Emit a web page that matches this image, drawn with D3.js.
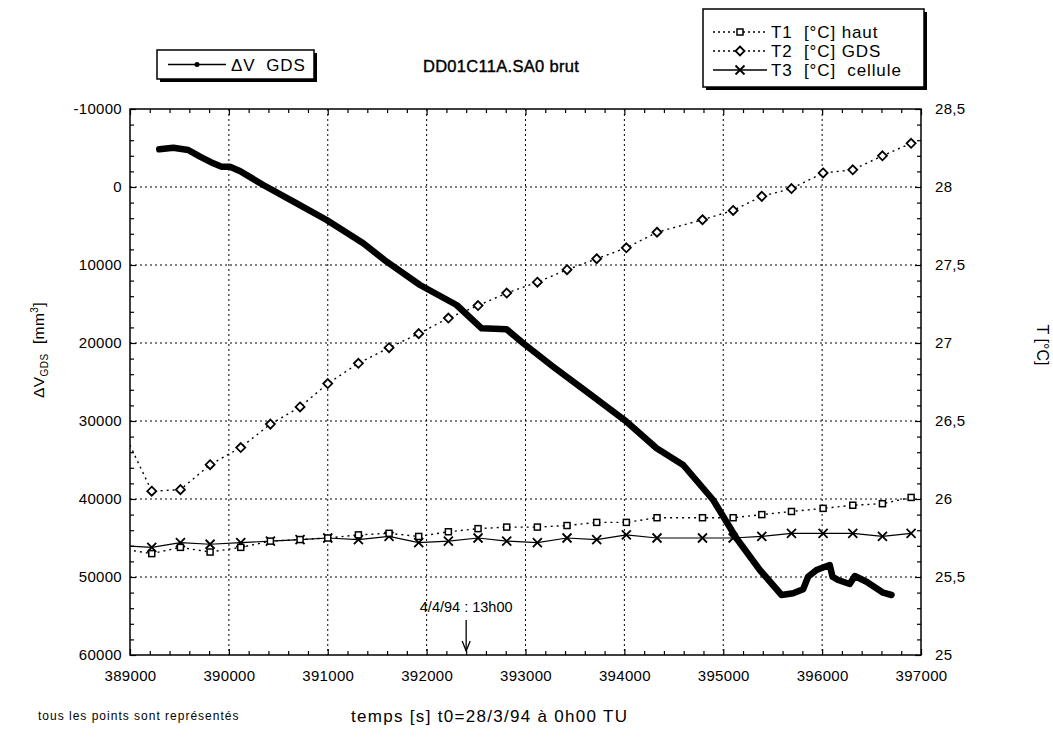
<!DOCTYPE html>
<html><head><meta charset="utf-8">
<script src="https://cdn.jsdelivr.net/npm/d3@7/dist/d3.min.js"></script>
<style>
body{margin:0;background:#fff}
svg{font-family:"Liberation Sans",Arial,Helvetica,sans-serif}
</style>
</head><body>
<svg id="c" width="1053" height="747"></svg>
<script>
// ---------- data ----------
const tempTimes = [388920,389220,389510,389810,390120,390420,390720,391000,391310,391620,391920,392220,392520,392810,393120,393420,393720,394020,394330,394790,395100,395390,395690,396010,396310,396610,396900];
const t1Values = [25.68,25.65,25.69,25.66,25.69,25.73,25.74,25.75,25.77,25.78,25.76,25.79,25.81,25.82,25.82,25.83,25.85,25.85,25.88,25.88,25.88,25.90,25.92,25.94,25.96,25.97,26.01];
const t2Values = [26.45,26.05,26.06,26.22,26.33,26.48,26.59,26.74,26.87,26.97,27.06,27.16,27.24,27.32,27.39,27.47,27.54,27.61,27.71,27.79,27.85,27.94,27.99,28.09,28.11,28.20,28.28];
const t3Values = [25.70,25.69,25.72,25.71,25.72,25.73,25.74,25.75,25.74,25.76,25.72,25.73,25.75,25.73,25.72,25.75,25.74,25.77,25.75,25.75,25.75,25.76,25.78,25.78,25.78,25.76,25.78];
const dvTimes = [389296,389438,389589,389708,389842,389927,390011,390111,390348,390686,390989,391359,391596,391933,392303,392556,392809,392977,393280,393618,394022,394326,394595,394898,395134,395370,395590,395707,395808,395858,395943,396077,396105,396162,396279,396330,396449,396617,396702];
const dvValues = [-4833,-5038,-4744,-3885,-3038,-2603,-2603,-2051,-256,2090,4231,7218,9577,12564,15128,18115,18244,20038,23038,26244,30090,33500,35641,40128,45038,49103,52308,52090,51577,49962,49103,48462,49962,50385,50897,49872,50603,52013,52308];
const xTicks = [389000,390000,391000,392000,393000,394000,395000,396000,397000];
const leftTicks = [-10000,0,10000,20000,30000,40000,50000,60000];
const rightTicks = [25,25.5,26,26.5,27,27.5,28,28.5];
const seriesNames = ["T1  [°C] haut","T2  [°C] GDS","T3  [°C]  cellule"];
const dvName = "ΔV  GDS";
const titleText = "DD01C11A.SA0 brut";
const annotTime = 392400;
const annotText = "4/4/94 : 13h00";

// ---------- layout ----------
const L=130,R=921,T=109,B=655;
const svg = d3.select("#c");
const x = d3.scaleLinear([389000,397000],[L,R]);
const yL = d3.scaleLinear([-10000,60000],[T,B]);
const yR = d3.scaleLinear([25,28.5],[B,T]);

svg.append("defs").append("clipPath").attr("id","clip")
  .append("rect").attr("x",L).attr("y",T).attr("width",R-L).attr("height",B-T);

// grid
const grid = svg.append("g").attr("stroke","#000").attr("stroke-width",1).attr("stroke-dasharray","2,3");
grid.selectAll("line.v").data(xTicks.slice(1,-1)).join("line")
  .attr("x1",d=>x(d)).attr("x2",d=>x(d)).attr("y1",T).attr("y2",B);
grid.selectAll("line.h").data(leftTicks.slice(1,-1)).join("line")
  .attr("x1",L).attr("x2",R).attr("y1",d=>yL(d)).attr("y2",d=>yL(d));

// minor ticks
const range=(a,b,s)=>{const r=[];for(let v=a;v<=b+1e-9;v+=s)r.push(+v.toFixed(4));return r;};
const xMinor = range(389000,397000,200).filter(v=>v%1000!==0);
const lMinor = range(-10000,60000,2000).filter(v=>v%10000!==0);
const rMinor = range(25,28.5,0.1).filter(v=>Math.abs(v*2-Math.round(v*2))>1e-6);

function styleAxis(g){g.select(".domain").remove();g.selectAll("line").attr("stroke","#000").attr("stroke-width",1.2);
  g.selectAll("text").attr("font-size",15).attr("fill","#000").attr("letter-spacing","0.3px").attr("font-family","Liberation Sans, Arial, sans-serif");}
const fmtInt = d=>String(d);

svg.append("g").attr("transform",`translate(${L},0)`).call(d3.axisLeft(yL).tickValues(leftTicks).tickSize(-6).tickPadding(8).tickFormat(fmtInt)).call(styleAxis);
svg.append("g").attr("transform",`translate(${L},0)`).call(d3.axisLeft(yL).tickValues(lMinor).tickSize(-4).tickFormat("")).call(styleAxis);
svg.append("g").attr("transform",`translate(${R},0)`).call(d3.axisRight(yR).tickValues(rightTicks).tickSize(-6).tickPadding(14).tickFormat(d=>String(d).replace(".",","))).call(styleAxis);
svg.append("g").attr("transform",`translate(${R},0)`).call(d3.axisRight(yR).tickValues(rMinor).tickSize(-4).tickFormat("")).call(styleAxis);
svg.append("g").attr("transform",`translate(0,${B})`).call(d3.axisBottom(x).tickValues(xTicks).tickSize(-6).tickPadding(15).tickFormat(fmtInt)).call(styleAxis);
svg.append("g").attr("transform",`translate(0,${B})`).call(d3.axisBottom(x).tickValues(xMinor).tickSize(-4).tickFormat("")).call(styleAxis);
svg.append("g").attr("transform",`translate(0,${T})`).call(d3.axisTop(x).tickValues(xTicks).tickSize(-6).tickFormat("")).call(styleAxis);
svg.append("g").attr("transform",`translate(0,${T})`).call(d3.axisTop(x).tickValues(xMinor).tickSize(-4).tickFormat("")).call(styleAxis);

// frame
svg.append("rect").attr("x",L).attr("y",T).attr("width",R-L).attr("height",B-T)
  .attr("fill","none").attr("stroke","#000").attr("stroke-width",1.5);

// ---------- series ----------
const plot = svg.append("g").attr("clip-path","url(#clip)");
const tLine = vals => d3.line().x((d,i)=>x(tempTimes[i])).y(d=>yR(d))(vals);

plot.append("path").attr("d",tLine(t2Values)).attr("fill","none").attr("stroke","#000").attr("stroke-width",1.4).attr("stroke-dasharray","2,4");
plot.append("path").attr("d",tLine(t1Values)).attr("fill","none").attr("stroke","#000").attr("stroke-width",1.4).attr("stroke-dasharray","2,4");
plot.append("path").attr("d",tLine(t3Values)).attr("fill","none").attr("stroke","#000").attr("stroke-width",1.2);

function square(g,cx,cy,s){g.append("rect").attr("x",cx-s/2).attr("y",cy-s/2).attr("width",s).attr("height",s).attr("fill","#fff").attr("stroke","#000").attr("stroke-width",1.5);}
function diamond(g,cx,cy,s){g.append("path").attr("d",`M${cx},${cy-s}L${cx+s},${cy}L${cx},${cy+s}L${cx-s},${cy}Z`).attr("fill","#fff").attr("stroke","#000").attr("stroke-width",1.8);}
function cross(g,cx,cy,s){g.append("path").attr("d",`M${cx-s},${cy-s}L${cx+s},${cy+s}M${cx-s},${cy+s}L${cx+s},${cy-s}`).attr("stroke","#000").attr("stroke-width",1.8);}

tempTimes.forEach((t,i)=>{
  cross(plot,x(t),yR(t3Values[i]),4.5);
  square(plot,x(t),yR(t1Values[i]),6);
  diamond(plot,x(t),yR(t2Values[i]),4.5);
});

plot.append("path").datum(dvValues)
  .attr("d",d3.line().x((d,i)=>x(dvTimes[i])).y(d=>yL(d)))
  .attr("fill","none").attr("stroke","#000").attr("stroke-width",6.5)
  .attr("stroke-linejoin","round").attr("stroke-linecap","round");

// ---------- legends ----------
function box(x0,y0,w,h){
  svg.append("rect").attr("x",x0+3).attr("y",y0+3).attr("width",w).attr("height",h).attr("fill","#000");
  svg.append("rect").attr("x",x0).attr("y",y0).attr("width",w).attr("height",h).attr("fill","#fff").attr("stroke","#000").attr("stroke-width",1.5);
}
box(157,50,157,29);
svg.append("line").attr("x1",168).attr("x2",226).attr("y1",64.5).attr("y2",64.5).attr("stroke","#000").attr("stroke-width",1.5);
svg.append("circle").attr("cx",197).attr("cy",64.5).attr("r",2.5).attr("fill","#000");
svg.append("text").attr("x",231).attr("y",71).attr("font-size",17).attr("letter-spacing","0.8px").text(dvName).style("white-space","pre");

box(703,9,221,78);
const rowsY=[32,51,70];
const markers=[square,diamond,cross];
seriesNames.forEach((n,i)=>{
  const ln = svg.append("line").attr("x1",713).attr("x2",767).attr("y1",rowsY[i]).attr("y2",rowsY[i]).attr("stroke","#000").attr("stroke-width",1.3);
  if(i<2) ln.attr("stroke-dasharray","2,3");
  markers[i](svg,740,rowsY[i],i===0?6:4.5);
  svg.append("text").attr("x",771).attr("y",rowsY[i]+6).attr("font-size",17).attr("letter-spacing","0.9px").text(n).style("white-space","pre");
});

// ---------- texts ----------
svg.append("text").attr("x",501).attr("y",72).attr("text-anchor","middle").attr("font-size",16.5).attr("letter-spacing","0.3px")
  .attr("stroke","#000").attr("stroke-width",0.4).text(titleText);

const yl = svg.append("text").attr("transform","translate(44,350) rotate(-90)").attr("text-anchor","middle").attr("font-size",15.5).attr("letter-spacing","0.4px");
yl.append("tspan").text("ΔV");
yl.append("tspan").attr("font-size",10).attr("dy",4).text("GDS");
yl.append("tspan").attr("dy",-4).text("  [mm").style("white-space","pre");
yl.append("tspan").attr("font-size",10).attr("dy",-6).text("3");
yl.append("tspan").attr("dy",6).text("]");

svg.append("text").attr("transform","translate(1037,345) rotate(90)").attr("text-anchor","middle").attr("font-size",16).text("T [°C]");

svg.append("text").attr("x",x(annotTime)).attr("y",612).attr("text-anchor","middle").attr("font-size",14.5).text(annotText);
svg.append("line").attr("x1",x(annotTime)).attr("x2",x(annotTime)).attr("y1",620).attr("y2",651).attr("stroke","#000").attr("stroke-width",1.3);
svg.append("path").attr("d",`M${x(annotTime)-4},${641}L${x(annotTime)},${651}L${x(annotTime)+4},${641}`).attr("fill","none").attr("stroke","#000").attr("stroke-width",1.3);

svg.append("text").attr("x",38).attr("y",720).attr("font-size",12).attr("letter-spacing","1px").text("tous les points sont représentés");
svg.append("text").attr("x",351).attr("y",722).attr("font-size",17).attr("letter-spacing","1.3px").text("temps [s] t0=28/3/94 à 0h00 TU");
</script>
</body></html>
